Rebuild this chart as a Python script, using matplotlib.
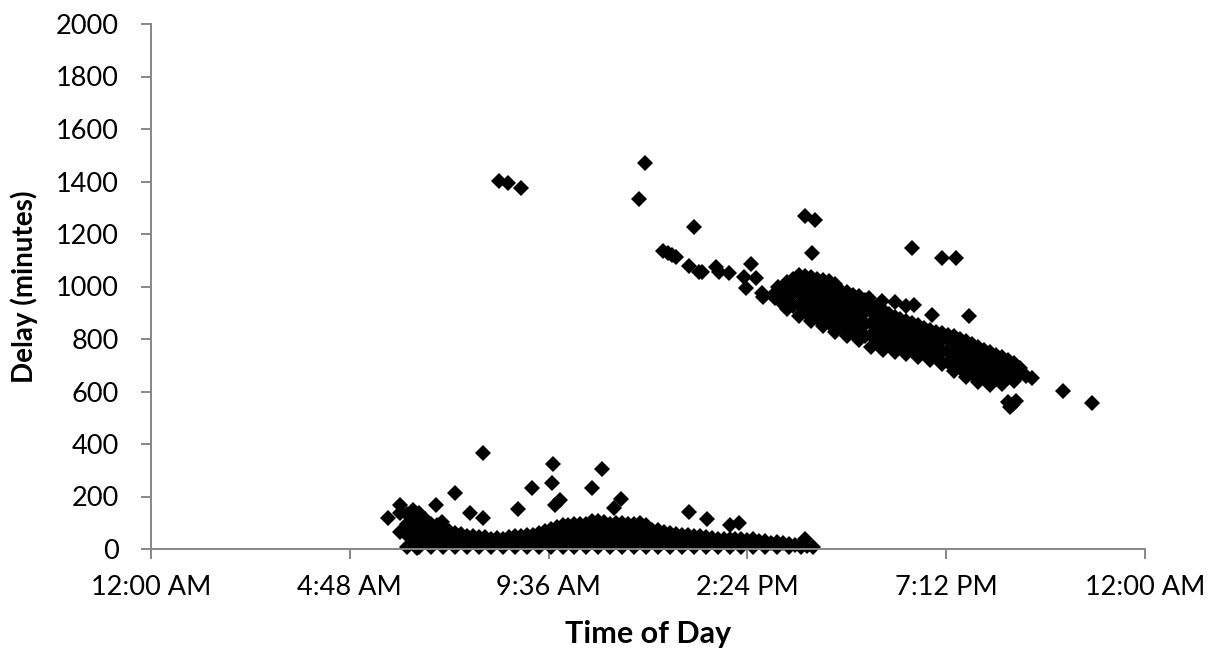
import matplotlib
matplotlib.use('Agg')
import matplotlib.pyplot as plt

# times are fractions of a day (Excel style), delays in minutes

morning_cols = [0.258, 0.264, 0.270, 0.276, 0.282, 0.288, 0.294, 0.300, 0.306, 0.312,
                0.318, 0.324, 0.330, 0.336, 0.342, 0.348, 0.354, 0.360, 0.366, 0.372,
                0.378, 0.384, 0.390, 0.396, 0.402, 0.408, 0.414, 0.420, 0.426, 0.432,
                0.438, 0.444, 0.450, 0.456, 0.462, 0.468, 0.474, 0.480, 0.486, 0.492,
                0.498, 0.504, 0.510, 0.516, 0.522, 0.528, 0.534, 0.540, 0.546, 0.552,
                0.558, 0.564, 0.570, 0.576, 0.582, 0.588, 0.594, 0.600, 0.606, 0.612,
                0.618, 0.624, 0.630, 0.636, 0.642, 0.648, 0.654, 0.660, 0.666]
morning_delays = [
    [8, 52, 96, 135], [30, 74, 118, 150], [8, 52, 96, 138], [30, 74, 115], [8, 52, 96],
    [30, 74, 92], [8, 52, 80], [30, 70], [8, 52, 62], [30, 58],
    [8, 50], [30, 48], [8, 44], [30, 46], [8, 40], [25, 42], [8, 40], [28, 45], [8, 48], [30, 50],
    [8, 52], [30, 55], [8, 52, 60], [30, 70], [8, 52, 78], [30, 74, 85], [8, 52, 90], [30, 74, 92],
    [8, 52, 96], [30, 74, 95], [8, 52, 96], [30, 74, 105], [8, 52, 96, 108], [30, 74, 102],
    [8, 52, 96], [30, 74, 100], [8, 52, 98], [30, 74, 95], [8, 52, 96], [30, 74, 98],
    [8, 52, 92], [30, 74], [8, 52, 72], [30, 65], [8, 52, 60], [30, 58], [8, 52], [30, 55],
    [8, 50], [30, 48], [8, 45], [30, 42], [8, 40], [30, 38], [8, 40], [28, 38], [8, 38], [28, 36],
    [8, 38], [25, 32], [8, 30], [22], [8, 25], [22], [8, 20], [15], [8], [10], [6]]

# scattered morning points above the cluster
morning_out_t = [0.238, 0.250, 0.250, 0.250, 0.268, 0.287, 0.306, 0.293, 0.321, 0.334,
                 0.334, 0.369, 0.383, 0.404, 0.403, 0.411, 0.406, 0.444, 0.454, 0.473,
                 0.466, 0.541, 0.559, 0.582, 0.592, 0.658]
morning_out_d = [118, 168, 137, 65, 4, 168, 213, 103, 137, 366,
                 118, 152, 232, 324, 251, 187, 168, 232, 305, 191,
                 156, 141, 114, 91, 99, 38]

# evening band, columns of points
evening_cols = [0.628, 0.634, 0.640, 0.646, 0.652, 0.658, 0.664, 0.670, 0.676, 0.682,
                0.688, 0.694, 0.700, 0.706, 0.712, 0.718, 0.724, 0.730, 0.736, 0.742,
                0.748, 0.754, 0.760, 0.766, 0.772, 0.778, 0.784, 0.790, 0.796, 0.802,
                0.808, 0.814, 0.820, 0.826, 0.832, 0.838, 0.844, 0.850, 0.856, 0.862,
                0.868, 0.874, 0.880, 0.886]
evening_delays = [
    [955, 975], [940, 985], [913, 959, 1005, 1017], [924, 970, 1016, 1030],
    [889, 935, 981, 1027, 1045], [901, 947, 993, 1039], [868, 914, 960, 1006, 1035],
    [879, 925, 971, 1017, 1030], [848, 894, 940, 986, 1025], [861, 907, 953, 999, 1020],
    [828, 874, 920, 966, 1010], [844, 890, 936, 982], [813, 859, 905, 951, 980],
    [828, 874, 920, 966], [795, 841, 887, 933, 965], [811, 857, 903, 949],
    [768, 814, 860, 906, 935], [784, 830, 876, 920], [758, 804, 850, 896, 910],
    [776, 822, 868, 895], [750, 796, 842, 885], [768, 814, 860, 875], [741, 787, 833, 868],
    [760, 806, 852, 860], [732, 778, 824, 852], [750, 796, 842], [720, 766, 812, 836],
    [736, 782, 828], [703, 749, 795, 822], [713, 759, 805, 817], [678, 724, 770, 810],
    [689, 735, 781, 800], [655, 701, 747, 792], [668, 714, 760, 782], [635, 681, 727, 770],
    [651, 697, 743, 760], [626, 672, 718, 750], [646, 692, 738], [628, 674, 720, 730],
    [658, 704, 720], [641, 687, 710], [665, 688], [660], [650]]

# scattered afternoon / evening points
evening_out_t = [0.350, 0.359, 0.372, 0.497, 0.491, 0.546, 0.515, 0.520, 0.524, 0.528,
                 0.541, 0.551, 0.554, 0.568, 0.571, 0.581, 0.604, 0.597, 0.609, 0.599,
                 0.615, 0.616, 0.631, 0.658, 0.668, 0.665, 0.766, 0.796, 0.810, 0.786,
                 0.823, 0.722, 0.735, 0.748, 0.760, 0.768, 0.862, 0.866, 0.870, 0.864,
                 0.918, 0.947]
evening_out_d = [1402, 1394, 1375, 1470, 1333, 1227, 1135, 1128, 1120, 1112,
                 1078, 1055, 1055, 1074, 1055, 1051, 1086, 1036, 1032, 994,
                 975, 960, 998, 1269, 1253, 1128, 1147, 1109, 1109, 893,
                 889, 958, 945, 940, 925, 930, 560, 548, 565, 541,
                 602, 556]

x_ticks = [0, 0.2, 0.4, 0.6, 0.8, 1.0]
x_labels = ['12:00 AM', '4:48 AM', '9:36 AM', '2:24 PM', '7:12 PM', '12:00 AM']
y_ticks = list(range(0, 2001, 200))

# flatten the column lists
times, delays = [], []
for cols, vals in [(morning_cols, morning_delays), (evening_cols, evening_delays)]:
    for t, ds in zip(cols, vals):
        for d in ds:
            times.append(t)
            delays.append(d)
times += morning_out_t + evening_out_t
delays += morning_out_d + evening_out_d

plt.rcParams['font.family'] = ['Lato', 'DejaVu Sans']

fig = plt.figure(figsize=(12.14, 6.52), dpi=100)
ax = fig.add_axes([151 / 1214, 1 - 549 / 652, 994 / 1214, 525 / 652])

ax.plot(times, delays, linestyle='none', marker='D', markersize=8.6,
        color='black', markeredgewidth=0, clip_on=False)

ax.set_xlim(0, 1)
ax.set_ylim(0, 2000)
ax.set_xticks(x_ticks)
ax.set_xticklabels(x_labels)
ax.set_yticks(y_ticks)

grey = '#868686'
for s in ['top', 'right']:
    ax.spines[s].set_visible(False)
for s in ['left', 'bottom']:
    ax.spines[s].set_color(grey)
    ax.spines[s].set_linewidth(1.4)
ax.tick_params(axis='both', direction='out', length=7, width=1.4, color=grey,
               labelsize=19.5, labelcolor='black')
ax.tick_params(axis='y', pad=16)
ax.tick_params(axis='x', pad=12)

ax.set_xlabel('Time of Day', fontsize=22, fontweight='bold', labelpad=14)
ax.set_ylabel('Delay (minutes)', fontsize=20, fontweight='bold', labelpad=13)

fig.savefig('out.png', dpi=100)
